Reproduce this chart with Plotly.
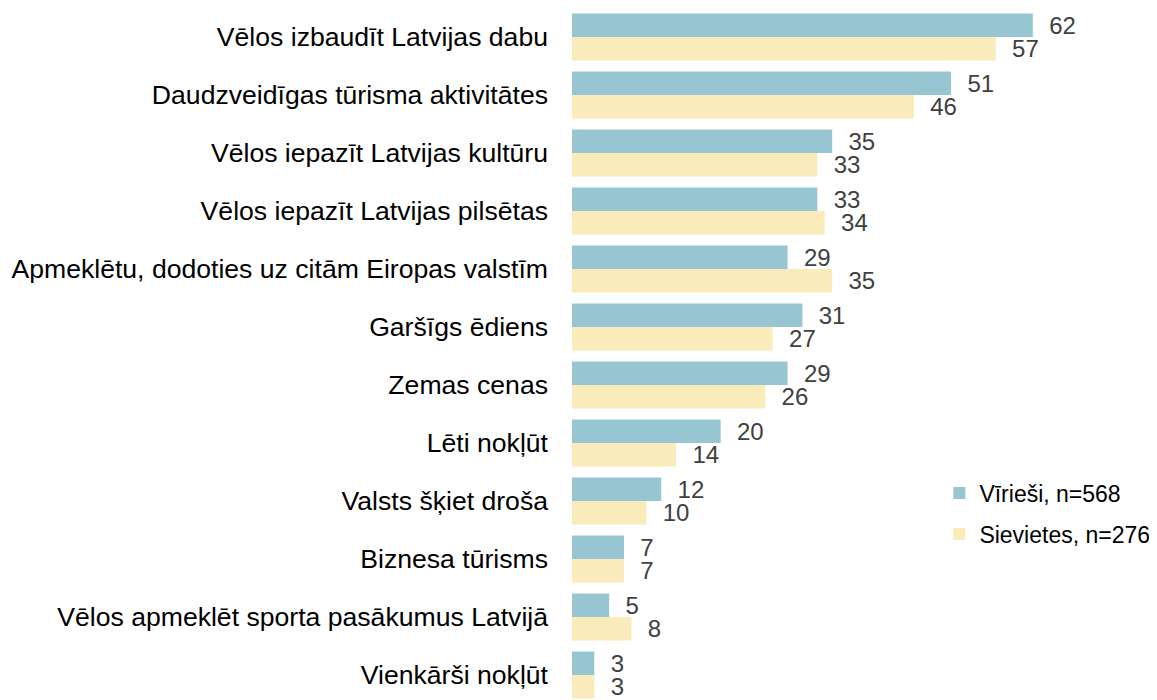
import plotly.graph_objects as go

categories = [
    "Vēlos izbaudīt Latvijas dabu",
    "Daudzveidīgas tūrisma aktivitātes",
    "Vēlos iepazīt Latvijas kultūru",
    "Vēlos iepazīt Latvijas pilsētas",
    "Apmeklētu, dodoties uz citām Eiropas valstīm",
    "Garšīgs ēdiens",
    "Zemas cenas",
    "Lēti nokļūt",
    "Valsts šķiet droša",
    "Biznesa tūrisms",
    "Vēlos apmeklēt sporta pasākumus Latvijā",
    "Vienkārši nokļūt",
]
men = [62, 51, 35, 33, 29, 31, 29, 20, 12, 7, 5, 3]
women = [57, 46, 33, 34, 35, 27, 26, 14, 10, 7, 8, 3]
series_names = ["Vīrieši, n=568", "Sievietes, n=276"]

BLUE = "#98C5D2"
YELLOW = "#FAECBA"
FONT = "Liberation Sans, Arial, sans-serif"

fig = go.Figure()
fig.add_trace(go.Bar(
    y=categories, x=men, orientation="h", name=series_names[0],
    marker=dict(color=BLUE, line=dict(width=0)),
    text=men, texttemplate="\u00a0\u00a0%{x}", textposition="outside",
    constraintext="none",
    textfont=dict(family=FONT, size=24, color="#404040"),
    cliponaxis=False, legend="legend",
))
fig.add_trace(go.Bar(
    y=categories, x=women, orientation="h", name=series_names[1],
    marker=dict(color=YELLOW, line=dict(width=0)),
    text=women, texttemplate="\u00a0\u00a0%{x}", textposition="outside",
    constraintext="none",
    textfont=dict(family=FONT, size=24, color="#404040"),
    cliponaxis=False, legend="legend2",
))

legend_style = dict(xanchor="left", yanchor="middle", bgcolor="rgba(0,0,0,0)",
                    font=dict(family=FONT, size=23, color="#000000"),
                    itemwidth=30, traceorder="normal")

fig.update_layout(
    width=1149, height=692,
    margin=dict(l=564, r=0, t=0, b=0, autoexpand=False),
    paper_bgcolor="white", plot_bgcolor="white",
    barmode="group", bargap=0.19, bargroupgap=0,
    font=dict(family=FONT, size=20, color="#000000"),
    xaxis=dict(range=[0, 78.7], visible=False, fixedrange=True),
    yaxis=dict(
        categoryorder="array", categoryarray=categories,
        range=[11.43, -0.5], showgrid=False, zeroline=False, showline=False,
        ticks="", ticklabelstandoff=23, automargin=False,
        tickfont=dict(family=FONT, size=26.6, color="#000000"),
    ),
    showlegend=True,
    legend=dict(x=0.628, y=0.299, **legend_style),
    legend2=dict(x=0.628, y=0.2399, **legend_style),
)

fig.write_html("out.html")
